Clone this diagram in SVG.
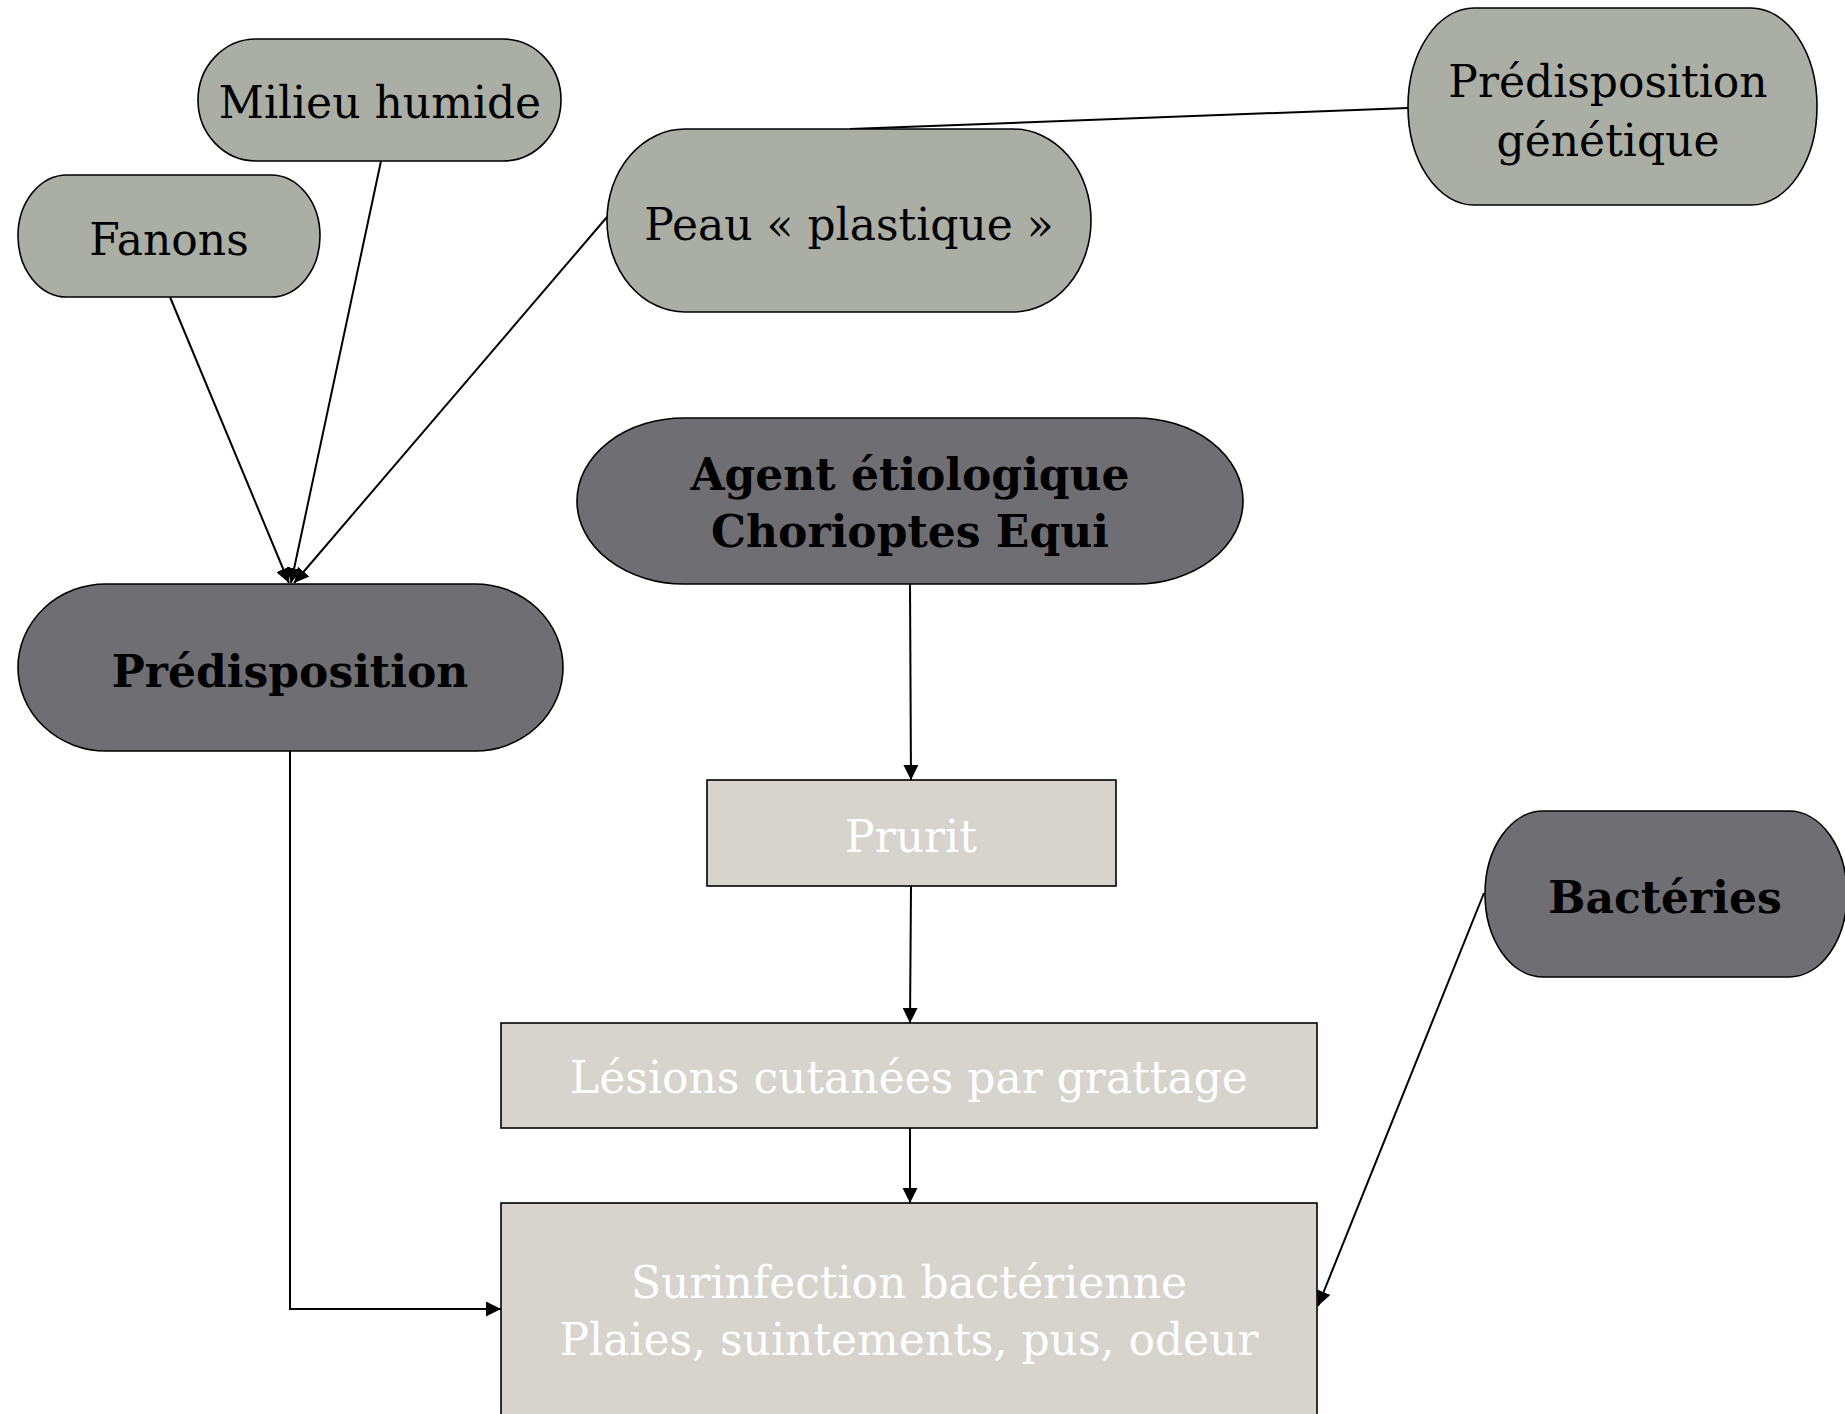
<svg xmlns="http://www.w3.org/2000/svg" width="1845" height="1414" viewBox="0 0 1845 1414">
<style>
.n1{fill:#ABAEA5;stroke:#000;stroke-width:1.6}
.n2{fill:#6F6E73;stroke:#000;stroke-width:1.6}
.n3{fill:#D6D4CD;stroke:#000;stroke-width:1.6}
.t{font-family:"DejaVu Serif","Liberation Serif",serif;font-size:44px;text-anchor:middle;fill:#000}
.tb{font-weight:bold}
.tw{fill:#fff}
.c{fill:none;stroke:#000;stroke-width:2}
</style>
<defs>
<marker id="arr" viewBox="0 0 10 10" refX="10" refY="5" markerWidth="15" markerHeight="15" markerUnits="userSpaceOnUse" orient="auto">
<path d="M0,0 L10,5 L0,10 z" fill="#000"/>
</marker>
</defs>
<rect width="1845" height="1414" fill="#fff"/>
<g id="connectors">
<path class="c" d="M170,297 L289,583" marker-end="url(#arr)"/>
<path class="c" d="M381,161 L291,583" marker-end="url(#arr)"/>
<path class="c" d="M607,217 L294,583" marker-end="url(#arr)"/>
<path class="c" d="M850,129 L1408,108"/>
<path class="c" d="M910,584 L911,780" marker-end="url(#arr)"/>
<path class="c" d="M911,886 L910,1023" marker-end="url(#arr)"/>
<path class="c" d="M910,1128 L910,1203" marker-end="url(#arr)"/>
<path class="c" d="M290,751 L290,1309 L501,1309" marker-end="url(#arr)"/>
<path class="c" d="M1484,893 L1318,1306" marker-end="url(#arr)"/>
</g>
<g id="fanons">
<rect class="n1" x="18" y="175" width="302" height="122" rx="49" ry="61"/>
<text class="t" x="169" y="255">Fanons</text>
</g>
<g id="milieu-humide">
<rect class="n1" x="198" y="39" width="363" height="122" rx="58" ry="61"/>
<text class="t" x="380" y="118">Milieu humide</text>
</g>
<g id="peau-plastique">
<rect class="n1" x="607" y="129" width="484" height="183" rx="78" ry="91.5"/>
<text class="t" x="849" y="240">Peau « plastique »</text>
</g>
<g id="predisposition-genetique">
<rect class="n1" x="1408" y="8" width="409" height="197" rx="66" ry="98.5"/>
<text class="t" x="1608" y="97">Prédisposition</text>
<text class="t" x="1608" y="156">génétique</text>
</g>
<g id="agent-etiologique">
<rect class="n2" x="577" y="418" width="666" height="166" rx="107" ry="83"/>
<text class="t tb" x="910" y="490">Agent étiologique</text>
<text class="t tb" x="910" y="547">Chorioptes Equi</text>
</g>
<g id="predisposition">
<rect class="n2" x="18" y="584" width="545" height="167" rx="88" ry="83.5"/>
<text class="t tb" x="290" y="687">Prédisposition</text>
</g>
<g id="prurit">
<rect class="n3" x="707" y="780" width="409" height="106"/>
<text class="t tw" x="911" y="852">Prurit</text>
</g>
<g id="bacteries">
<rect class="n2" x="1485" y="811" width="362" height="166" rx="58" ry="83"/>
<text class="t tb" x="1665" y="913">Bactéries</text>
</g>
<g id="lesions">
<rect class="n3" x="501" y="1023" width="816" height="105"/>
<text class="t tw" x="909" y="1093">Lésions cutanées par grattage</text>
</g>
<g id="surinfection">
<rect class="n3" x="501" y="1203" width="816" height="240"/>
<text class="t tw" x="909" y="1298">Surinfection bactérienne</text>
<text class="t tw" x="909" y="1355">Plaies, suintements, pus, odeur</text>
</g>
</svg>
